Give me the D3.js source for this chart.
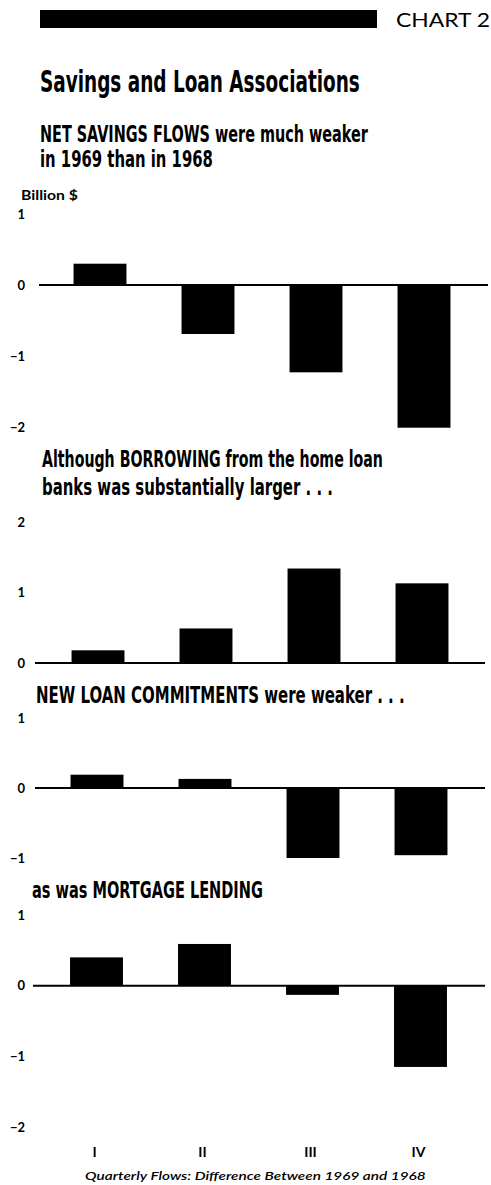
<!DOCTYPE html>
<html>
<head>
<meta charset="utf-8">
<script src="https://cdn.jsdelivr.net/npm/d3@7"></script>
<style>
  html, body { margin: 0; padding: 0; background: #fff; }
  svg { display: block; }
  .cond { font-family: "Liberation Sans Narrow", "DejaVu Sans Condensed", "Roboto", sans-serif; font-weight: bold; fill: #000; }
  .geo { font-family: "Lato", "Open Sans", sans-serif; fill: #000; }
</style>
</head>
<body>
<svg id="chart" width="491" height="1185"></svg>
<script>
// ---- Data ----
const quarters = ["I", "II", "III", "IV"];
const netSavings  = [0.30, -0.69, -1.23, -2.01];
const borrowing   = [0.18,  0.49,  1.34,  1.13];
const commitments = [0.19,  0.13, -1.00, -0.96];
const mortgage    = [0.40,  0.59, -0.13, -1.15];

const ticksSavings     = [1, 0, -1, -2];
const ticksBorrowing   = [2, 1, 0];
const ticksCommitments = [1, 0, -1];
const ticksMortgage    = [1, 0, -1, -2];

const chartLabel = "CHART 2";
const title = "Savings and Loan Associations";
const subSavings = ["NET SAVINGS FLOWS were much weaker", "in 1969 than in 1968"];
const subBorrowing = ["Although BORROWING from the home loan", "banks was substantially larger . . ."];
const subCommitments = ["NEW LOAN COMMITMENTS were weaker . . ."];
const subMortgage = ["as was MORTGAGE LENDING"];
const unitLabel = "Billion $";
const caption = "Quarterly Flows:  Difference Between 1969 and 1968";

// ---- Layout ----
const svg = d3.select("#chart");

// place text at (x,y) and squeeze/stretch it horizontally to a target width
function fitText(cls, t, x, y, size, width, attrs) {
  const el = svg.append("text").attr("class", cls).attr("font-size", size).text(t);
  if (attrs) Object.entries(attrs).forEach(([k, v]) => el.attr(k, v));
  const w = el.node().getComputedTextLength();
  const sx = w > 0 ? width / w : 1;
  el.attr("transform", `translate(${x},${y}) scale(${sx},1)`);
  return el;
}

// header
svg.append("rect").attr("x", 40).attr("y", 10).attr("width", 337).attr("height", 18).attr("fill", "#000");
fitText("geo", chartLabel, 396, 27, 19, 94, { "font-weight": 400 });

fitText("cond", title, 40, 92, 31, 320);

function subtitle(lines, x, y0, lens, lh) {
  lines.forEach((t, i) => fitText("cond", t, x, y0 + i * lh, 23, lens[i]));
}

subtitle(subSavings, 40, 142, [328, 173], 25);
fitText("geo", unitLabel, 21, 200, 13, 57, { "font-weight": "bold" });

subtitle(subBorrowing, 42, 467, [341, 291], 28);
subtitle(subCommitments, 36, 703, [369], 25);
subtitle(subMortgage, 32, 898, [231], 25);

const x = d3.scaleBand().domain(quarters).range([43, 475]).paddingInner(0.51).paddingOuter(0.255);

const panels = [
  { values: netSavings,  ticks: ticksSavings,     domain: [1, -2], range: [214, 427], dx: 3,  line: [39, 488] },
  { values: borrowing,   ticks: ticksBorrowing,   domain: [2, 0],  range: [522, 663], dx: 1,  line: [35, 485] },
  { values: commitments, ticks: ticksCommitments, domain: [1, -1], range: [718, 858], dx: 0,  line: [35, 485] },
  { values: mortgage,    ticks: ticksMortgage,    domain: [1, -2], range: [915, 1127], dx: -0.5, line: [33, 485] }
];

panels.forEach(p => {
  const y = d3.scaleLinear().domain(p.domain).range(p.range);
  const g = svg.append("g");

  // tick labels via axis
  const axis = d3.axisLeft(y).tickValues(p.ticks).tickSize(0).tickPadding(0)
    .tickFormat(d => d < 0 ? "\u2212" + Math.abs(d) : String(d));
  const ag = g.append("g").attr("transform", "translate(25,0)").call(axis);
  ag.select(".domain").remove();
  ag.selectAll("text").attr("font-size", 13).attr("font-weight", "bold")
    .attr("font-family", "Lato, 'Open Sans', sans-serif").attr("fill", "#000");

  // bars
  g.selectAll("rect.bar").data(p.values).join("rect").attr("class", "bar")
    .attr("x", (d, i) => x(quarters[i]) + p.dx)
    .attr("width", x.bandwidth())
    .attr("y", d => y(Math.max(0, d)))
    .attr("height", d => Math.abs(y(d) - y(0)))
    .attr("fill", "#000");

  // zero line
  g.append("line").attr("x1", p.line[0]).attr("x2", p.line[1])
    .attr("y1", y(0)).attr("y2", y(0)).attr("stroke", "#000").attr("stroke-width", 2);
});

// x labels
const xc = d3.scalePoint().domain(quarters).range([43, 475]).padding(0.5);
svg.append("g").attr("transform", "translate(-3,1157)")
  .call(d3.axisBottom(xc).tickSize(0).tickPadding(0))
  .call(g => g.select(".domain").remove())
  .selectAll("text").attr("font-family", "Lato, 'Open Sans', sans-serif").attr("font-size", 14)
  .attr("font-weight", "bold").attr("fill", "#000").attr("dy", 0);

fitText("geo", caption, 85, 1180, 12, 341, { "font-style": "italic", "font-weight": 600 });
</script>
</body>
</html>
